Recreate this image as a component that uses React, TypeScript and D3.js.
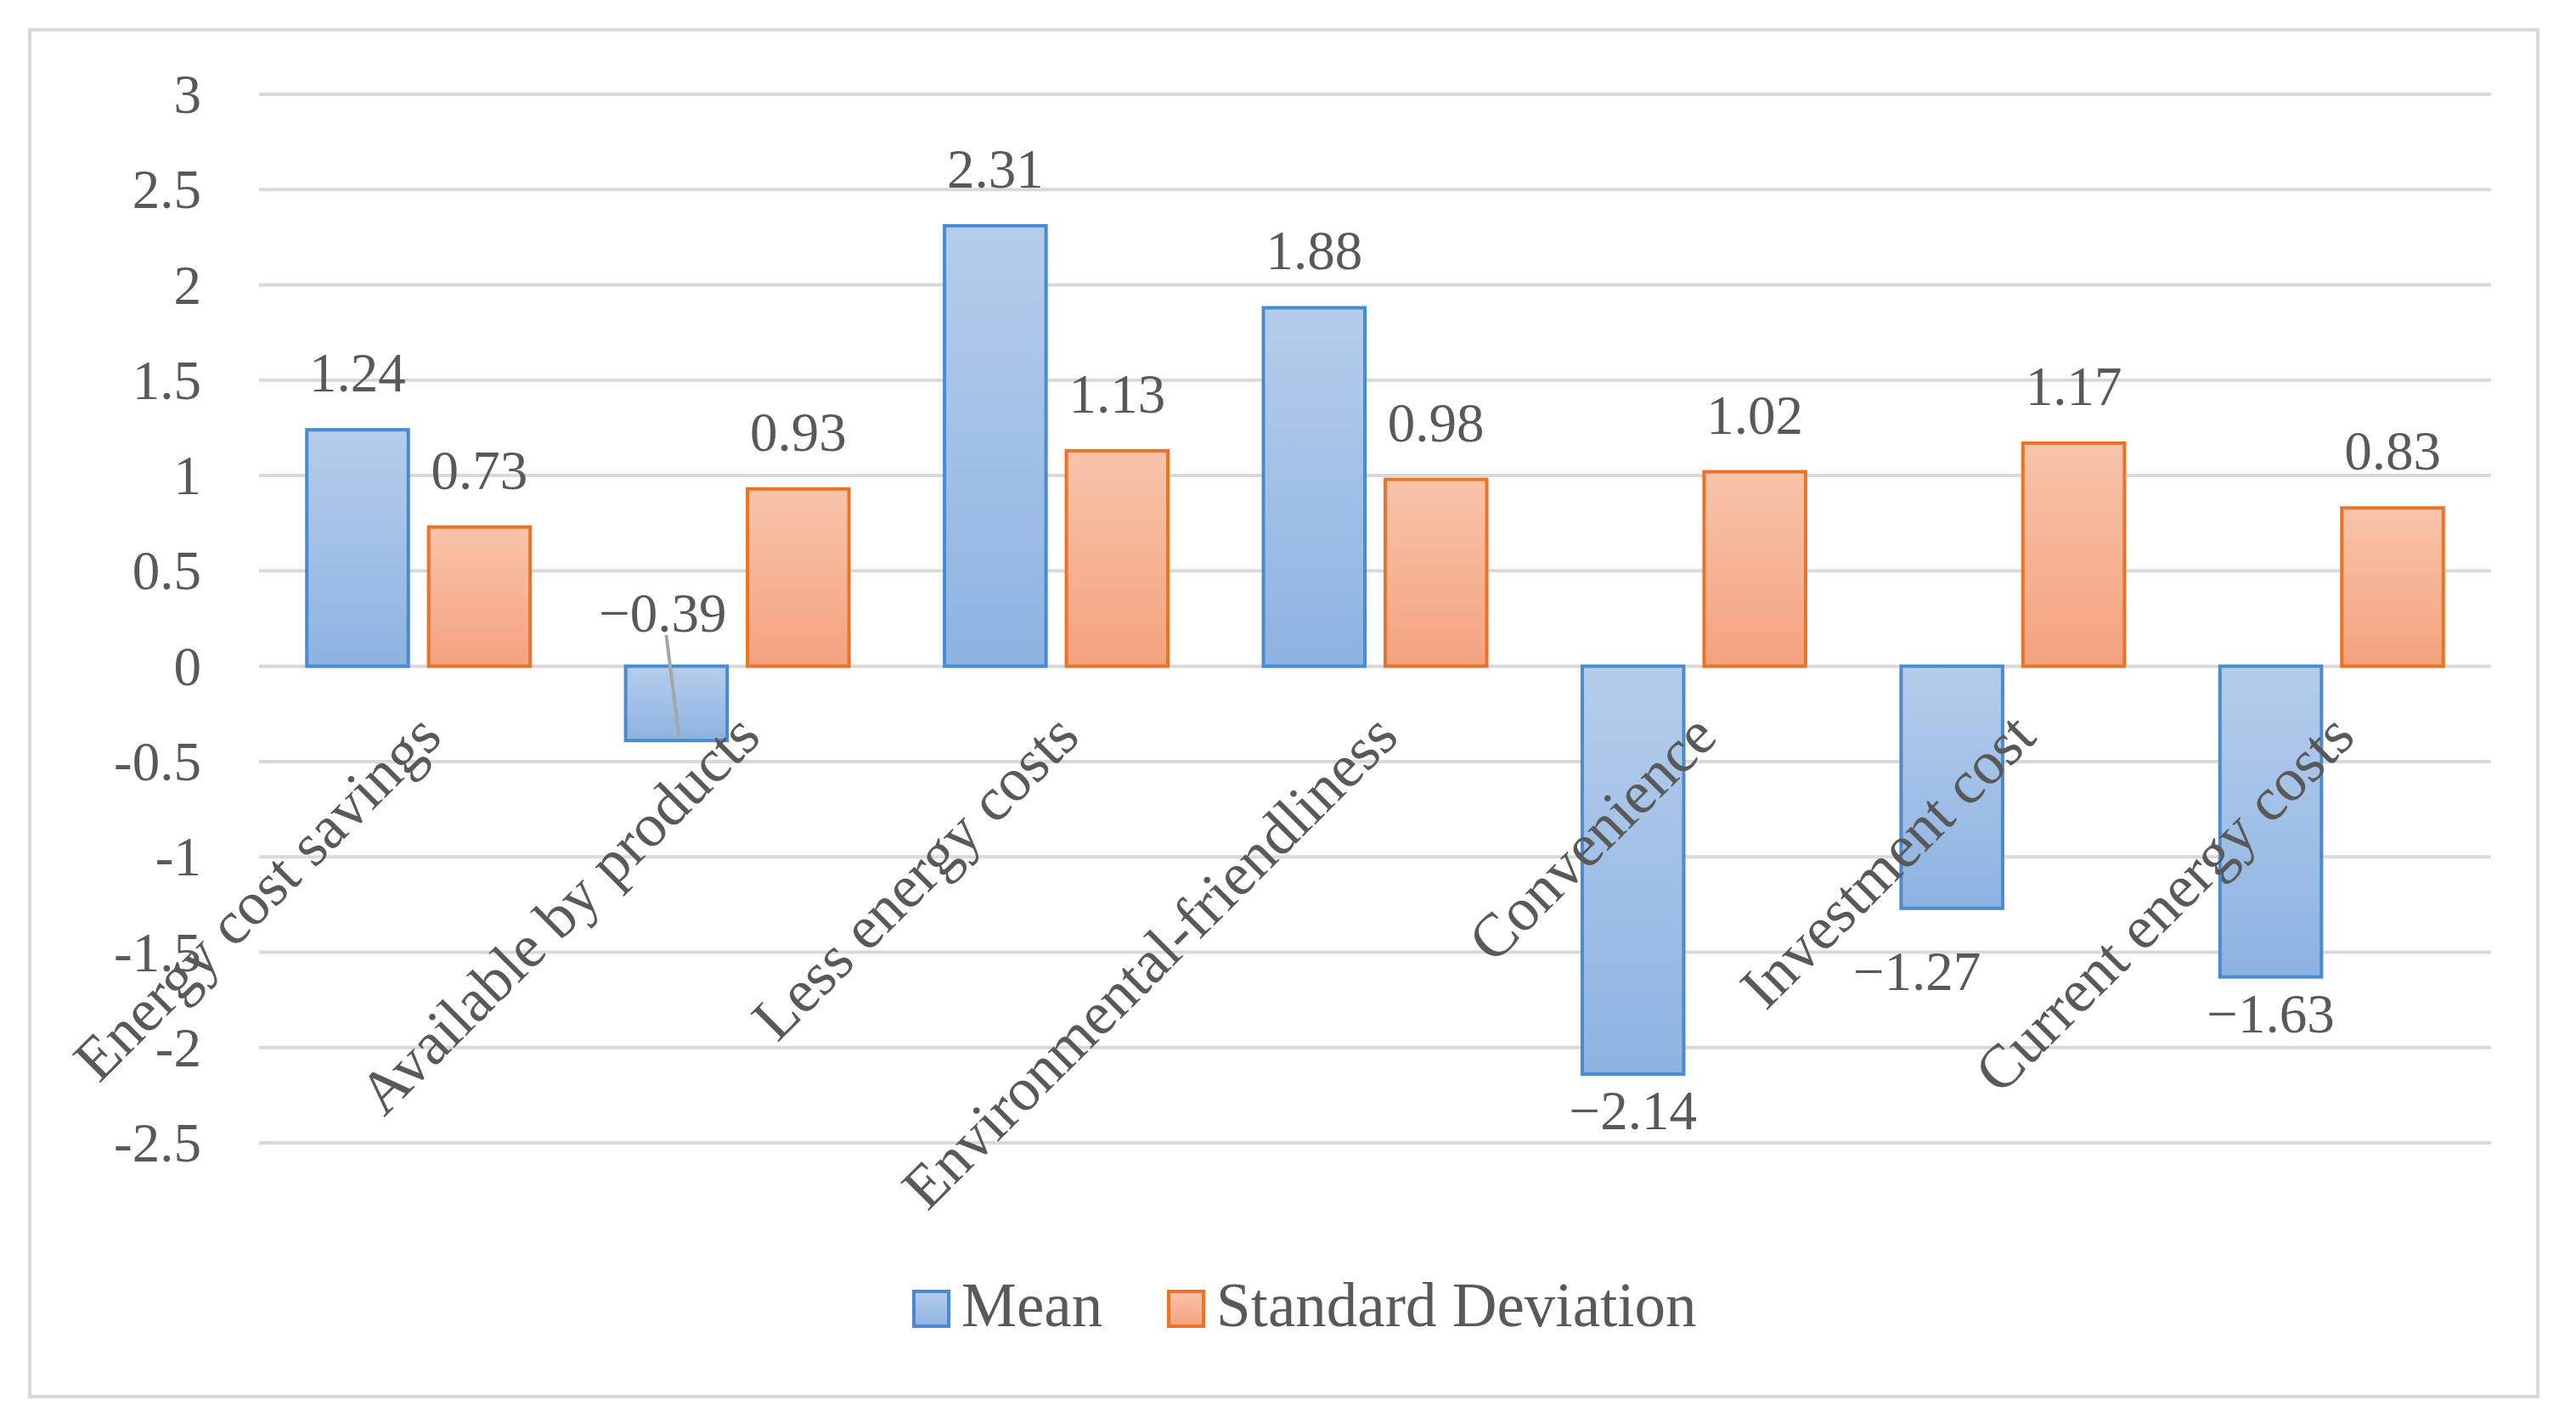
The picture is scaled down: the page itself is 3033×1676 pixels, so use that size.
import * as d3 from "d3";

const categories = [
  "Energy cost savings",
  "Available by products",
  "Less energy costs",
  "Environmental-friendliness",
  "Convenience",
  "Investment cost",
  "Current energy costs"
];
const meanValues = [1.24, -0.39, 2.31, 1.88, -2.14, -1.27, -1.63];
const sdValues = [0.73, 0.93, 1.13, 0.98, 1.02, 1.17, 0.83];
const yTicks = [3, 2.5, 2, 1.5, 1, 0.5, 0, -0.5, -1, -1.5, -2, -2.5];
const seriesNames = ["Mean", "Standard Deviation"];

const width = 3033;
const height = 1676;
const plotLeft = 305;
const plotRight = 2933;
const plotTop = 111;
const plotBottom = 1346;

const font = "'Palatino Linotype', 'Book Antiqua', Palatino, 'Liberation Serif', serif";
const textColor = "#595959";
const gridColor = "#d9d9d9";

const fmt = (v: number) => (v < 0 ? "\u2212" + Math.abs(v).toFixed(2) : v.toFixed(2));

export default function App() {
  const x = d3.scaleBand<string>().domain(categories).range([plotLeft, plotRight]);
  const xs = d3
    .scaleBand<string>()
    .domain(["mean", "sd"])
    .range([0, x.bandwidth()])
    .paddingInner(0.1667)
    .paddingOuter(0.392);
  const y = d3.scaleLinear().domain([-2.5, 3]).range([plotBottom, plotTop]);
  const y0 = y(0);
  const bw = xs.bandwidth();

  const series = [
    { key: "mean", values: meanValues, grad: "gMean", stroke: "#4a8ad2" },
    { key: "sd", values: sdValues, grad: "gSd", stroke: "#ec7326" }
  ];

  return (
    <svg
      width={width}
      height={height}
      style={{ position: "absolute", left: 0, top: 0, background: "#fff" }}
      fontFamily={font}
    >
      <defs>
        <linearGradient id="gMean" x1="0" y1="0" x2="0" y2="1">
          <stop offset="0" stopColor="#b5cdeb" />
          <stop offset="1" stopColor="#8db3e2" />
        </linearGradient>
        <linearGradient id="gSd" x1="0" y1="0" x2="0" y2="1">
          <stop offset="0" stopColor="#f8c4aa" />
          <stop offset="1" stopColor="#f4a27e" />
        </linearGradient>
      </defs>

      {/* chart border */}
      <rect x={35} y={35} width={2953} height={1610} fill="#fff" stroke={gridColor} strokeWidth={4} />

      {/* gridlines + y labels */}
      {yTicks.map(t => (
        <g key={t}>
          <line x1={plotLeft} x2={plotRight} y1={y(t)} y2={y(t)} stroke={gridColor} strokeWidth={4} />
          <text
            x={plotLeft - 68}
            y={y(t)}
            dy="0.34em"
            textAnchor="end"
            fontSize={65}
            fill={textColor}
          >
            {t < 0 ? "-" + Math.abs(t) : t}
          </text>
        </g>
      ))}

      {/* bars */}
      {series.map(s =>
        s.values.map((v, i) => {
          const bx = (x(categories[i]) as number) + (xs(s.key) as number);
          return (
            <rect
              key={s.key + i}
              x={bx}
              y={Math.min(y(v), y0)}
              width={bw}
              height={Math.abs(y(v) - y0)}
              fill={`url(#${s.grad})`}
              stroke={s.stroke}
              strokeWidth={4}
            />
          );
        })
      )}

      {/* data labels */}
      {series.map(s =>
        s.values.map((v, i) => {
          const cx = (x(categories[i]) as number) + (xs(s.key) as number) + bw / 2;
          if (s.key === "mean" && i === 1) {
            // small bar: label above the axis with a leader line
            return (
              <g key={"l" + s.key + i}>
                <text x={cx - 16} y={y0 - 41} textAnchor="middle" fontSize={65} fill={textColor}>
                  {fmt(v)}
                </text>
                <line x1={cx - 12} y1={y0 - 37} x2={cx + 3} y2={y(v) - 5} stroke="#a6a6a6" strokeWidth={4} />
              </g>
            );
          }
          const nudgeX = s.key === "mean" && i === 5 ? -41 : 0;
          const nudgeY = s.key === "mean" && i === 5 ? 31 : 0;
          const ly = v >= 0 ? y(v) - 45 : y(v) + 65 + nudgeY;
          return (
            <text
              key={"l" + s.key + i}
              x={cx + nudgeX}
              y={ly}
              textAnchor="middle"
              fontSize={65}
              fill={textColor}
            >
              {fmt(v)}
            </text>
          );
        })
      )}

      {/* category labels */}
      {categories.map(c => {
        const cx = (x(c) as number) + x.bandwidth() / 2 + 30;
        const cy = y0 + 86;
        return (
          <text
            key={c}
            transform={`translate(${cx},${cy}) rotate(-45)`}
            textAnchor="end"
            fontSize={72}
            fill={textColor}
          >
            {c}
          </text>
        );
      })}

      {/* legend */}
      {seriesNames.map((n, i) => {
        const lx = i === 0 ? 1076 : 1376;
        const s = series[i];
        return (
          <g key={n}>
            <rect x={lx} y={1521} width={41} height={41} fill={`url(#${s.grad})`} stroke={s.stroke} strokeWidth={4} />
            <text x={lx + 56} y={1562} fontSize={73} fill={textColor}>
              {n}
            </text>
          </g>
        );
      })}
    </svg>
  );
}
